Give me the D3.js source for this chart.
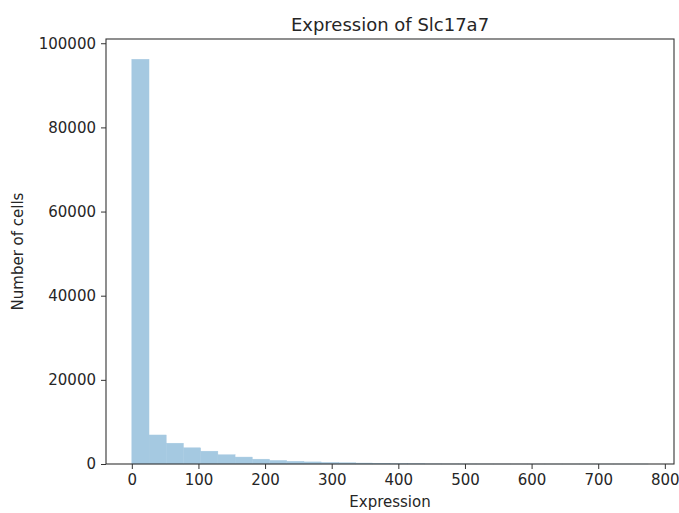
<!DOCTYPE html>
<html>
<head>
<meta charset="utf-8">
<script src="https://cdn.jsdelivr.net/npm/d3@7"></script>
<style>
	body { margin: 0; background: #fff; }
	text { font-family: "DejaVu Sans", sans-serif; fill: #262626; }
</style>
</head>
<body>
<svg id="chart" width="679" height="513"></svg>
<script>
'use strict';

// histogram of expression values, 30 bins from 0 to 775
var binStart = 0;
var binEnd = 775;
var binCounts = [96200, 6900, 4950, 3850, 3050, 2200, 1650, 1150, 850, 650,
	500, 380, 300, 230, 180, 80, 50, 35, 25, 18,
	12, 9, 7, 5, 4, 3, 2, 2, 1, 1];
var xTicks = [0, 100, 200, 300, 400, 500, 600, 700, 800];
var yTicks = [0, 20000, 40000, 60000, 80000, 100000];
var chartTitle = "Expression of Slc17a7";
var xLabel = "Expression";
var yLabel = "Number of cells";

function drawHistogram(svgName) {
	let svg = d3.select(svgName),
	margin = {
		top: 39,
		right: 5,
		bottom: 49,
		left: 106
	},
	width = +svg.attr("width") - margin.left - margin.right,
	height = +svg.attr("height") - margin.top - margin.bottom,
	g = svg.append("g").attr("transform", "translate(" + margin.left + "," + margin.top + ")");

	let binWidth = (binEnd - binStart) / binCounts.length;
	let bins = binCounts.map(function (c, i) {
		return {x0: binStart + i * binWidth, x1: binStart + (i + 1) * binWidth, count: c};
	});

	// matplotlib style 5% margins
	let pad = (binEnd - binStart) * 0.05;
	let x = d3.scaleLinear()
		.domain([binStart - pad, binEnd + pad])
		.range([0, width]);
	let y = d3.scaleLinear()
		.domain([0, d3.max(binCounts) * 1.05])
		.range([height, 0]);

	g.selectAll(".bar")
	.data(bins)
	.enter().append("rect")
	.attr("class", "bar")
	.attr("x", function (d) { return x(d.x0); })
	.attr("y", function (d) { return y(d.count); })
	.attr("width", function (d) { return x(d.x1) - x(d.x0); })
	.attr("height", function (d) { return height - y(d.count); })
	.attr("fill", "#a5c9e1")
	.attr("stroke", "#a5c9e1")
	.attr("stroke-width", 0.4);

	let xAxis = g.append("g")
	.attr("transform", "translate(0," + height + ")")
	.call(d3.axisBottom(x).tickValues(xTicks).tickSize(5).tickPadding(5).tickFormat(d3.format("d")));

	let yAxis = g.append("g")
	.call(d3.axisLeft(y).tickValues(yTicks).tickSize(5).tickPadding(5).tickFormat(d3.format("d")));

	for (let ax of [xAxis, yAxis]) {
		ax.select(".domain").remove();
		ax.selectAll("line").attr("stroke", "#333");
		ax.selectAll("text")
		.attr("font-size", "15px")
		.attr("font-family", "DejaVu Sans, sans-serif")
		.attr("fill", "#333");
	}

	// frame
	g.append("rect")
	.attr("x", 0)
	.attr("y", 0)
	.attr("width", width)
	.attr("height", height)
	.attr("fill", "none")
	.attr("stroke", "#333")
	.attr("stroke-width", 1.1);

	svg.append("text")
	.attr("x", margin.left + width / 2)
	.attr("y", 31)
	.attr("text-anchor", "middle")
	.attr("font-size", "18px")
	.text(chartTitle);

	svg.append("text")
	.attr("x", margin.left + width / 2)
	.attr("y", 507)
	.attr("text-anchor", "middle")
	.attr("font-size", "15px")
	.text(xLabel);

	svg.append("text")
	.attr("transform", "translate(23," + (margin.top + height / 2) + ") rotate(-90)")
	.attr("text-anchor", "middle")
	.attr("font-size", "15px")
	.text(yLabel);
}

drawHistogram("#chart");
</script>
</body>
</html>
